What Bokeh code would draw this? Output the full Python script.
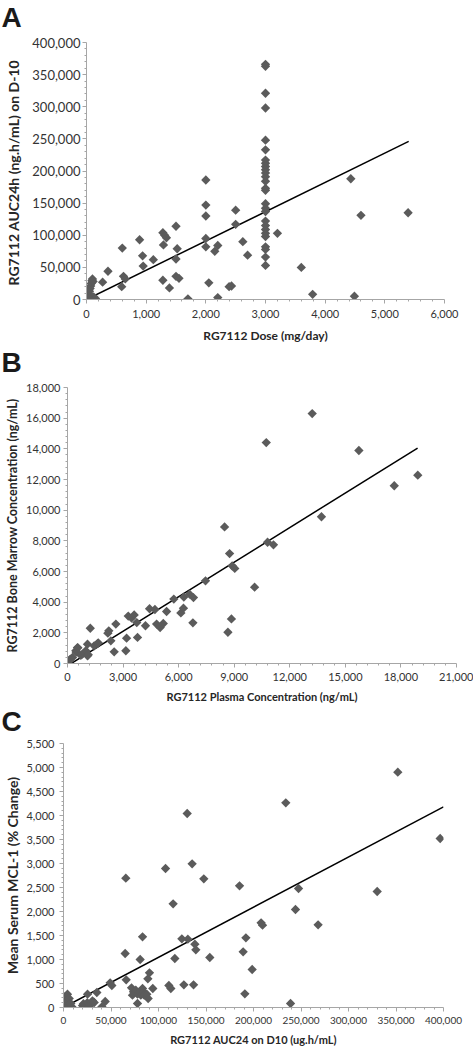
from bokeh.plotting import figure
from bokeh.models import Range1d, FixedTicker, NumeralTickFormatter, Title
from bokeh.embed import file_html
from bokeh.resources import INLINE
import math

# ---------------- Panel A: dose vs AUC24h ----------------
dose_a = [10, 20, 30, 40, 50, 60, 70, 80, 90, 100, 110, 120, 150, 60,
          270, 360, 590, 600, 620, 650, 890, 940, 950, 1120,
          1280, 1310, 1340, 1290, 1280, 1390, 1500, 1520, 1500, 1500, 1550, 1700,
          2000, 2000, 2000, 2000, 2000, 2050, 2150, 2200, 2200, 2390, 2430,
          2500, 2500, 2620, 2700,
          3000, 3000, 3000, 3000, 3000, 3000, 3000, 3000, 3000, 3000, 3000, 3000, 3000, 3000,
          3000, 3000, 3000, 3000, 3000, 3000, 3000, 3000, 3000, 3000, 3000, 3000, 3000,
          3200, 3600, 3790, 4430, 4490, 4600, 5390]
auc_a = [0, 2000, 5000, 9000, 13000, 17000, 21000, 25000, 29000, 32000, 28000, 4000, 1500, 0,
         27000, 44000, 20000, 80000, 36000, 32000, 93000, 68000, 52000, 62000,
         104000, 100000, 96000, 85000, 30000, 18000, 114000, 79000, 63000, 36000, 33000, 1000,
         186000, 147000, 130000, 95000, 82000, 26000, 75000, 84000, 3000, 20000, 21000,
         139000, 117000, 90000, 69000,
         366000, 363000, 321000, 298000, 248000, 233000, 217000, 212000, 207000, 202000, 197000, 191000, 184000, 173000,
         170000, 149000, 142000, 137000, 122000, 115000, 109000, 103000, 98000, 82000, 78000, 66000, 53000,
         103000, 50000, 8000, 188000, 5000, 131000, 135000]
trend_a_x = [0, 5400]
trend_a_y = [0, 246000]
ticks_a_x = [0, 1000, 2000, 3000, 4000, 5000, 6000]
ticks_a_y = [0, 50000, 100000, 150000, 200000, 250000, 300000, 350000, 400000]

# ---------------- Panel B: plasma vs bone marrow ----------------
plasma_b = [30, 90, 150, 270, 450, 540, 470, 560, 720, 810, 990, 1080, 1120, 1080, 1230,
            1440, 1620, 1660, 2180, 2230, 2340, 2520, 2610, 3150, 3190, 3280, 3460, 3600,
            3740, 3780, 4210, 4430, 4720, 4810, 5000, 5170, 5350, 5740, 6120, 6260, 6280,
            6590, 6770, 6800, 7450, 8480, 8660, 8750, 8850, 8890, 9030, 10100, 10730,
            10800, 11120, 13210, 13710, 15730, 17640, 18910]
marrow_b = [50, 180, 290, 390, 830, 1040, 740, 1020, 540, 610, 830, 1260, 570, 500, 2300,
            1150, 1300, 1350, 1980, 2130, 1480, 760, 2570, 830, 1650, 3090, 2960, 3170,
            2670, 1700, 2460, 3570, 3520, 2570, 2350, 2610, 3390, 4200, 3300, 3610, 4330,
            4520, 2650, 4300, 5390, 8910, 2040, 7170, 2910, 6370, 6200, 4980, 14410,
            7910, 7740, 16300, 9570, 13890, 11590, 12280]
trend_b_x = [0, 18900]
trend_b_y = [-150, 14050]
ticks_b_x = [0, 3000, 6000, 9000, 12000, 15000, 18000, 21000]
ticks_b_y = [0, 2000, 4000, 6000, 8000, 10000, 12000, 14000, 16000, 18000]

# ---------------- Panel C: AUC24 vs MCL-1 ----------------
auc_c = [1400, 2500, 3200, 4200, 5300, 6000, 7700, 8800,
         20000, 21000, 25000, 25300, 27000, 28000, 30500, 32300, 35100, 40400, 43900,
         49100, 50900, 64900, 65600, 66000, 71600, 72600, 73700, 76100, 77900, 77900,
         79700, 80700, 81400, 83200, 83200, 84200, 84900, 87700, 88800, 89100, 90500, 94000,
         107400, 110900, 113000, 115400, 117200, 124600, 126700, 130200, 130900, 135400,
         136900, 138300, 139300, 147700, 154000, 185300, 189100, 190900, 192000, 198600,
         208000, 209500, 234000, 239000, 244200, 247400, 268000, 330200, 351900, 396500]
mcl_c = [220, 14, 118, 278, 28, 188, 83, 14,
         40, 80, 100, 278, 20, 60, 139, 104, 312, 14, 125,
         514, 458, 1125, 2694, 576, 410, 257, 326, 361, 278, 83,
         326, 1000, 257, 396, 1472, 326, 257, 278, 597, 188, 722, 396,
         2896, 458, 396, 2160, 1021, 1430, 472, 4042, 1424, 2993,
         472, 1319, 1201, 2681, 1042, 2535, 1160, 285, 1451, 792,
         1764, 1715, 4264, 83, 2042, 2479, 1722, 2417, 4903, 3521]
trend_c_x = [0, 400000]
trend_c_y = [0, 4180]
ticks_c_x = [0, 50000, 100000, 150000, 200000, 250000, 300000, 350000, 400000]
ticks_c_y = [0, 500, 1000, 1500, 2000, 2500, 3000, 3500, 4000, 4500, 5000, 5500]

MARK = "#5b5b5b"
AXIS = "#a6a6a6"
TXT = "#333333"
FONT = "Lato"


def minor(ticks, n):
    out = []
    for a, b in zip(ticks[:-1], ticks[1:]):
        step = (b - a) / n
        out += [a + k * step for k in range(1, n)]
    return out


def panel(letter, xs, ys, tx, ty, xt, yt, xlabel, ylabel,
          height, left, right, top, bottom, ytick_size, xtick_size,
          ylab_size, xlab_size, ylab_standoff, ytick_standoff, spacer_px,
          xtick_standoff, xlab_standoff):
    p = figure(width=473, height=height, output_backend="svg", toolbar_location=None,
               title=None,
               x_range=Range1d(xt[0], xt[-1]), y_range=Range1d(yt[0], yt[-1]),
               min_border_left=left, min_border_right=right,
               min_border_top=top, min_border_bottom=bottom)
    # spacer between the panel letter and the plot frame, then the letter itself
    p.add_layout(Title(text=" ", text_font="Liberation Sans",
                       text_font_size=spacer_px, standoff=0), "above")
    p.add_layout(Title(text=letter, align="left", offset=-left + 1, vertical_align="top",
                       text_font="Liberation Sans", text_font_style="bold",
                       text_font_size="28px", text_color="#1a1a1a", standoff=0), "above")
    p.outline_line_color = None
    p.xgrid.visible = False
    p.ygrid.visible = False
    p.line(tx, ty, line_color="black", line_width=1.5)
    p.scatter(xs, ys, marker="square", angle=math.pi / 4, size=6.6,
              fill_color=MARK, line_color=None)
    p.xaxis.ticker = FixedTicker(ticks=xt, minor_ticks=minor(xt, 5))
    p.yaxis.ticker = FixedTicker(ticks=yt, minor_ticks=minor(yt, 5))
    for ax in (p.xaxis[0], p.yaxis[0]):
        ax.formatter = NumeralTickFormatter(format="0,0")
        ax.axis_line_color = AXIS
        ax.major_tick_line_color = AXIS
        ax.minor_tick_line_color = AXIS
        ax.major_tick_in = 0
        ax.major_tick_out = 4
        ax.minor_tick_in = 0
        ax.minor_tick_out = 2
        ax.major_label_text_font = FONT
        ax.major_label_text_color = TXT
        ax.axis_label_text_font = FONT
        ax.axis_label_text_font_style = "bold"
        ax.axis_label_text_color = "#262626"
    p.xaxis.axis_label = xlabel
    p.yaxis.axis_label = ylabel
    p.xaxis.major_label_text_font_size = xtick_size
    p.yaxis.major_label_text_font_size = ytick_size
    p.xaxis.axis_label_text_font_size = xlab_size
    p.yaxis.axis_label_text_font_size = ylab_size
    p.xaxis.major_label_standoff = xtick_standoff
    p.xaxis.axis_label_standoff = xlab_standoff
    p.yaxis.major_label_standoff = ytick_standoff
    p.yaxis.axis_label_standoff = ylab_standoff
    return p


pa = panel("A", dose_a, auc_a, trend_a_x, trend_a_y, ticks_a_x, ticks_a_y,
           "RG7112 Dose (mg/day)", "RG7112  AUC24h (ng.h/mL) on D-10",
           345, 86, 29, 42, 45, "13px", "11px", "14px", "12px", 7, 2, "6px", 6, 7)
pb = panel("B", plasma_b, marrow_b, trend_b_x, trend_b_y, ticks_b_x, ticks_b_y,
           "RG7112 Plasma Concentration (ng/mL)", "RG7112 Bone Marrow Concentration (ng/mL)",
           360, 67, 17, 42, 42, "11px", "11px", "12.5px", "11px", 3, 3, "6px", 5, 6)
pc = panel("C", auc_c, mcl_c, trend_c_x, trend_c_y, ticks_c_x, ticks_c_y,
           "RG7112 AUC24 on D10 (ug.h/mL)", "Mean Serum MCL-1 (% Change)",
           343, 63, 30, 38, 41, "11px", "10px", "14px", "11px", 2, 5, "3px", 5, 6)

open("out.html", "w").write(file_html([pa, pb, pc], INLINE))
